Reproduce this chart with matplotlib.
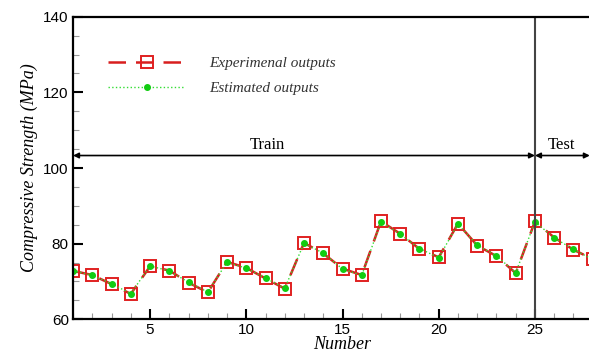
import matplotlib.pyplot as plt
from matplotlib.ticker import MultipleLocator

# sample number and compressive strength (MPa)
number = list(range(1, 29))
experimental = [72.8, 71.7, 69.3, 66.7, 74.0, 72.9, 69.7, 67.1, 75.2, 73.6,
                70.8, 68.1, 80.2, 77.4, 73.4, 71.7, 85.9, 82.6, 78.6, 76.4,
                85.3, 79.5, 76.7, 72.2, 85.9, 81.6, 78.4, 75.9]
estimated = [72.9, 71.6, 69.4, 66.8, 74.1, 72.8, 69.8, 67.2, 75.1, 73.5,
             70.9, 68.2, 80.1, 77.5, 73.3, 71.6, 85.8, 82.5, 78.7, 76.3,
             85.2, 79.6, 76.8, 72.3, 85.8, 81.5, 78.5, 75.8]
split_at = 25

serif = "Liberation Serif"
plt.rcParams["font.family"] = "Liberation Sans"

fig = plt.figure(figsize=(5.89, 3.57), dpi=100)
ax = fig.add_axes([0.124, 0.1056, 0.915, 0.8476])

ax.plot(number, experimental, color="#d81e1e", ls=(0, (7, 4)), lw=1.8,
        marker="s", ms=9, mfc="none", mec="#e02020", mew=1.4,
        label="Experimenal outputs")
ax.plot(number, estimated, color="#33dd33", ls=":", lw=1.0,
        marker="o", ms=4, mfc="#11cc11", mec="#11cc11",
        label="Estimated outputs")

ax.axvline(split_at, color="#444444", lw=1.5)

arrow_y = 103.3
ax.annotate("", xy=(1, arrow_y), xytext=(split_at, arrow_y),
            arrowprops=dict(arrowstyle="<|-|>", color="black", lw=1.2,
                            mutation_scale=8, shrinkA=0, shrinkB=0))
ax.annotate("", xy=(split_at, arrow_y), xytext=(27.85, arrow_y),
            arrowprops=dict(arrowstyle="<|-|>", color="black", lw=1.2,
                            mutation_scale=8, shrinkA=0, shrinkB=0))
ax.text(11.1, arrow_y + 0.6, "Train", family=serif, fontsize=12,
        ha="center", va="bottom")
ax.text(26.4, arrow_y + 0.6, "Test", family=serif, fontsize=12,
        ha="center", va="bottom")

ax.set_xlim(1, 29)
ax.set_ylim(60, 140)
ax.xaxis.set_major_locator(MultipleLocator(5))
ax.xaxis.set_minor_locator(MultipleLocator(1))
ax.yaxis.set_major_locator(MultipleLocator(20))
ax.yaxis.set_minor_locator(MultipleLocator(5))
ax.tick_params(which="major", direction="in", length=7, width=1.5,
               labelsize=11, pad=3)
ax.tick_params(which="minor", direction="in", length=4, width=0.8,
               color="#999999")
for s in ax.spines.values():
    s.set_linewidth(1.6)

ax.set_xlabel("Number", family=serif, style="italic", fontsize=13, labelpad=-1)
ax.set_ylabel("Compressive Strength (MPa)", family=serif, style="italic",
              fontsize=13, labelpad=4)

leg = ax.legend(loc="upper left", bbox_to_anchor=(0.04, 0.915), frameon=False,
                handlelength=5, handletextpad=1.6, labelspacing=0.75,
                prop=dict(family=serif, style="italic", size=11))
for t in leg.get_texts():
    t.set_color("#333333")

plt.savefig("out.png")
